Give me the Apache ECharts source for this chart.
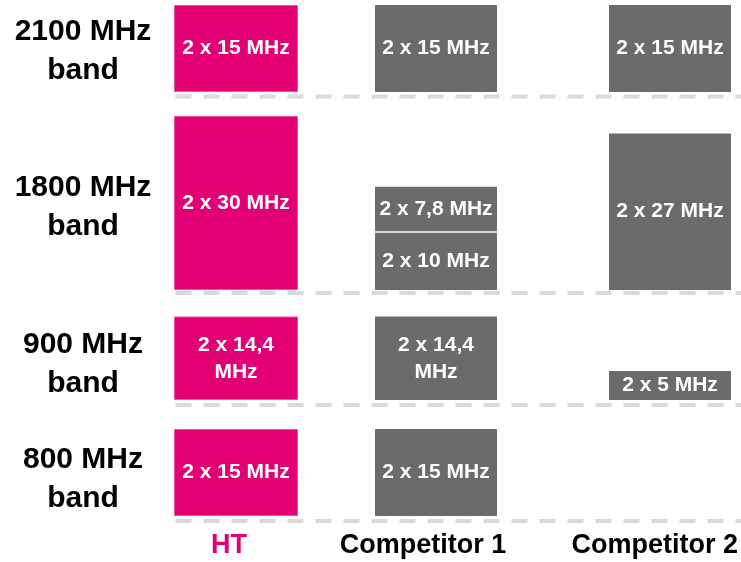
<!DOCTYPE html>
<html>
<head>
<meta charset="utf-8">
<title>Spectrum holdings by band</title>
<script src="https://cdn.jsdelivr.net/npm/echarts@6/dist/echarts.min.js"></script>
<style>
  html, body { margin: 0; padding: 0; background: #fff; }
  #chart { width: 741px; height: 562px; }
</style>
</head>
<body>
<div id="chart"></div>
<script>
// Operators, one column each
const columns = ['HT', 'Competitor 1', 'Competitor 2'];
// Frequency bands, one row each (top to bottom)
const bands = ['2100 MHz band', '1800 MHz band', '900 MHz band', '800 MHz band'];
// Paired spectrum per band (MHz per direction); blocks of one band listed bottom-up
const ht          = [[15], [30],      [14.4], [15]];
const competitor1 = [[15], [10, 7.8], [14.4], [15]];
const competitor2 = [[15], [27],      [5],    []];

const holdings = [ht, competitor1, competitor2];

const MAGENTA = '#e20074';
const GRAY = '#6b6b6b';
const FONT = '"Liberation Sans", Arial, Helvetica, sans-serif';
const PX_PER_MHZ = 5.8;

// Column placement and label nudge (pixels)
const colLayout = [
  { left: 174, width: 124, shift: 7 },
  { left: 375, width: 122, shift: 13 },
  { left: 609, width: 122, shift: 8 }
];
// Row baselines, band-label centres and separator lines (pixels)
const rowLayout = [
  { base: 92,  label: 51,  line: 96.5 },
  { base: 290, label: 207, line: 293 },
  { base: 400, label: 364, line: 405 },
  { base: 516, label: 479, line: 521 }
];

function mhzLabel(p) {
  const s = String(p.value).replace('.', ',');
  return s.length >= 4 ? '2 x ' + s + '\nMHz' : '2 x ' + s + ' MHz';
}

const grids = [], xAxes = [], yAxes = [], series = [], graphics = [];

rowLayout.forEach((row, r) => {
  colLayout.forEach((col, c) => {
    const idx = grids.length;
    grids.push({ left: col.left, width: col.width, top: 0, height: row.base });
    xAxes.push({
      gridIndex: idx,
      type: 'category',
      data: [{ value: columns[c], textStyle: { color: c === 0 ? MAGENTA : '#000' } }],
      show: r === rowLayout.length - 1,
      axisLine: { show: false },
      axisTick: { show: false },
      splitLine: { show: false },
      axisLabel: {
        margin: 16,
        fontSize: 27,
        fontWeight: 'bold',
        fontFamily: FONT,
        padding: [0, col.shift * 2, 0, 0]
      }
    });
    yAxes.push({
      gridIndex: idx,
      type: 'value',
      min: 0,
      max: row.base / PX_PER_MHZ,
      show: false
    });
    const blocks = holdings[c][r];
    let stacked = 0;
    blocks.forEach((v, k) => {
      stacked += v;
      const s = {
        type: 'bar',
        xAxisIndex: idx,
        yAxisIndex: idx,
        stack: 'cell' + idx,
        barWidth: '100%',
        data: [v],
        itemStyle: c === 0
          ? { color: MAGENTA, borderColor: '#ee55a0', borderWidth: 1 }
          : { color: GRAY },
        label: {
          show: true,
          position: 'inside',
          formatter: mhzLabel,
          color: '#fff',
          fontSize: 21,
          fontWeight: 'bold',
          fontFamily: FONT,
          lineHeight: 27
        }
      };
      // thin white divider between stacked blocks of one band
      if (k < blocks.length - 1) {
        s.markLine = {
          silent: true,
          symbol: 'none',
          label: { show: false },
          lineStyle: { color: '#fff', width: 1.5, type: 'solid' },
          data: [{ yAxis: stacked }]
        };
      }
      series.push(s);
    });
  });

  // dashed separator under each band
  graphics.push({
    type: 'line',
    silent: true,
    shape: { x1: 175.5, y1: row.line, x2: 741, y2: row.line },
    style: { stroke: '#d9d9d9', lineWidth: 4, lineDash: [16, 12] }
  });
  // band name on the left
  graphics.push({
    type: 'text',
    silent: true,
    style: {
      text: bands[r].replace(' band', '\nband'),
      x: 83,
      y: row.label,
      align: 'center',
      verticalAlign: 'middle',
      fill: '#000',
      fontSize: 30,
      fontWeight: 'bold',
      fontFamily: FONT,
      lineHeight: 39
    }
  });
});

const chart = echarts.init(document.getElementById('chart'), null, { renderer: 'canvas' });
chart.setOption({
  animation: false,
  backgroundColor: '#fff',
  grid: grids,
  xAxis: xAxes,
  yAxis: yAxes,
  series: series,
  graphic: graphics
});
</script>
</body>
</html>
